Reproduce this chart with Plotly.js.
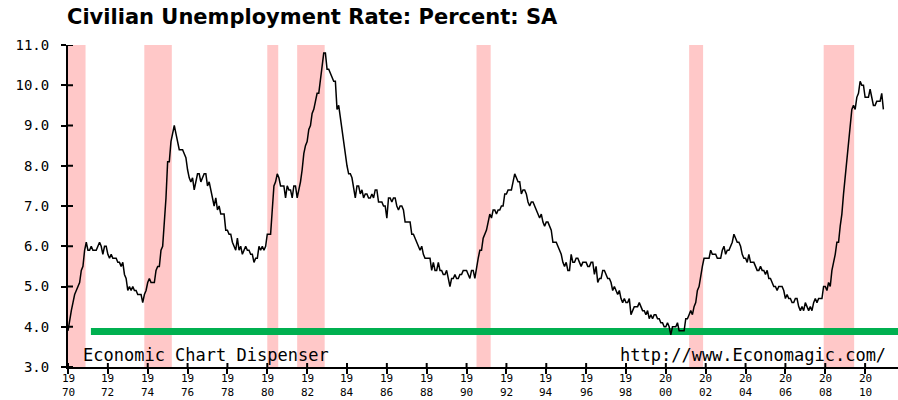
<!DOCTYPE html>
<html>
<head>
<meta charset="utf-8">
<script src="https://cdn.plot.ly/plotly-3.0.1.min.js"></script>
<style>
  html, body { margin: 0; padding: 0; background: #ffffff; }
  #chart { width: 898px; height: 400px; }
</style>
</head>
<body>
<div id="chart"></div>
<script>
// Monthly civilian unemployment rate (percent, SA), Jan..Dec of each year
const rate1970s = [
  [3.9,4.2,4.4,4.6,4.8,4.9,5.0,5.1,5.4,5.5,5.9,6.1],
  [5.9,5.9,6.0,5.9,5.9,5.9,6.0,6.1,6.0,5.8,6.0,6.0],
  [5.8,5.7,5.8,5.7,5.7,5.7,5.6,5.6,5.5,5.6,5.3,5.2],
  [4.9,5.0,4.9,5.0,4.9,4.9,4.8,4.8,4.8,4.6,4.8,4.9],
  [5.1,5.2,5.1,5.1,5.1,5.4,5.5,5.5,5.9,6.0,6.6,7.2],
  [8.1,8.1,8.6,8.8,9.0,8.8,8.6,8.4,8.4,8.4,8.3,8.2],
  [7.9,7.7,7.6,7.7,7.4,7.6,7.8,7.8,7.6,7.7,7.8,7.8],
  [7.5,7.6,7.4,7.2,7.0,7.2,6.9,7.0,6.8,6.8,6.8,6.4],
  [6.4,6.3,6.3,6.1,6.0,5.9,6.2,5.9,6.0,5.8,5.9,6.0],
  [5.9,5.9,5.8,5.8,5.6,5.7,5.7,6.0,5.9,6.0,5.9,6.0]
];
const rate1980s = [
  [6.3,6.3,6.3,6.9,7.5,7.6,7.8,7.7,7.5,7.5,7.5,7.2],
  [7.5,7.4,7.4,7.2,7.5,7.5,7.2,7.4,7.6,7.9,8.3,8.5],
  [8.6,8.9,9.0,9.3,9.4,9.6,9.8,9.8,10.1,10.4,10.8,10.8],
  [10.4,10.4,10.3,10.2,10.1,10.1,9.4,9.5,9.2,8.8,8.5,8.3],
  [8.0,7.8,7.8,7.7,7.4,7.2,7.5,7.5,7.3,7.4,7.2,7.3],
  [7.3,7.2,7.2,7.3,7.2,7.4,7.4,7.1,7.1,7.1,7.0,7.0],
  [6.7,7.2,7.2,7.1,7.2,7.2,7.0,6.9,7.0,7.0,6.9,6.6],
  [6.6,6.6,6.6,6.3,6.3,6.2,6.1,6.0,5.9,6.0,5.8,5.7],
  [5.7,5.7,5.7,5.4,5.6,5.4,5.4,5.6,5.4,5.4,5.3,5.3],
  [5.4,5.2,5.0,5.2,5.2,5.3,5.2,5.2,5.3,5.3,5.4,5.4]
];
const rate1990s = [
  [5.4,5.3,5.2,5.4,5.4,5.2,5.5,5.7,5.9,5.9,6.2,6.3],
  [6.4,6.6,6.8,6.7,6.9,6.9,6.8,6.9,6.9,7.0,7.0,7.3],
  [7.3,7.4,7.4,7.4,7.6,7.8,7.7,7.6,7.6,7.3,7.4,7.4],
  [7.3,7.1,7.0,7.1,7.1,7.0,6.9,6.8,6.7,6.8,6.6,6.5],
  [6.6,6.6,6.5,6.4,6.1,6.1,6.1,6.0,5.9,5.8,5.6,5.5],
  [5.6,5.4,5.4,5.8,5.6,5.6,5.7,5.7,5.6,5.5,5.6,5.6],
  [5.6,5.5,5.5,5.6,5.6,5.3,5.5,5.1,5.2,5.2,5.4,5.4],
  [5.3,5.2,5.2,5.1,4.9,5.0,4.9,4.8,4.9,4.7,4.6,4.7],
  [4.6,4.6,4.7,4.3,4.4,4.5,4.5,4.5,4.6,4.5,4.4,4.4],
  [4.3,4.4,4.2,4.3,4.2,4.3,4.3,4.2,4.2,4.1,4.1,4.0]
];
const rate2000s = [
  [4.0,4.1,4.0,3.8,4.0,4.0,4.0,4.1,3.9,3.9,3.9,3.9],
  [4.2,4.2,4.3,4.4,4.3,4.5,4.6,4.9,5.0,5.3,5.5,5.7],
  [5.7,5.7,5.7,5.9,5.8,5.8,5.8,5.7,5.7,5.7,5.9,6.0],
  [5.8,5.9,5.9,6.0,6.1,6.3,6.2,6.1,6.1,6.0,5.8,5.7],
  [5.7,5.6,5.8,5.6,5.6,5.6,5.5,5.4,5.4,5.5,5.4,5.4],
  [5.3,5.4,5.2,5.2,5.1,5.0,5.0,4.9,5.0,5.0,5.0,4.9],
  [4.7,4.8,4.7,4.7,4.6,4.6,4.7,4.7,4.5,4.4,4.5,4.4],
  [4.6,4.5,4.4,4.5,4.4,4.6,4.7,4.6,4.7,4.7,4.7,5.0],
  [5.0,4.9,5.1,5.0,5.4,5.6,5.8,6.1,6.1,6.5,6.8,7.3],
  [7.7,8.2,8.6,8.9,9.4,9.5,9.4,9.7,9.8,10.1,10.0,10.0]
];
const rate2010s = [
  [9.7,9.7,9.7,9.9,9.7,9.5,9.5,9.6,9.6,9.6,9.8,9.4]
];
const firstYear = 1970;

// Recessions (start, end) in decimal years
const recessionStart = [1970.0, 1973.83, 1980.0, 1981.5, 1990.5, 2001.17, 2007.92];
const recessionEnd   = [1970.88, 1975.21, 1980.55, 1982.88, 1991.21, 2001.87, 2009.45];

// Horizontal green reference line
const refLevel = 3.88;
const refStart = 1971.15;

// Tick labels
const xTickVals = [1970,1972,1974,1976,1978,1980,1982,1984,1986,1988,1990,1992,1994,1996,1998,2000,2002,2004,2006,2008,2010];
const xTickTop = ["19","19","19","19","19","19","19","19","19","19","19","19","19","19","19","20","20","20","20","20","20"];
const xTickBottom = ["70","72","74","76","78","80","82","84","86","88","90","92","94","96","98","00","02","04","06","08","10"];
const yTickVals = [3,4,5,6,7,8,9,10,11];
const yTickText = ["3.0","4.0","5.0","6.0","7.0","8.0","9.0","10.0","11.0"];

const titleText = "Civilian Unemployment Rate: Percent: SA";
const leftNote = "Economic Chart Dispenser";
const rightNote = "http://www.Economagic.com/";

// build series
const allYears = [].concat(rate1970s, rate1980s, rate1990s, rate2000s, rate2010s);
const xs = [], ys = [];
allYears.forEach((row, yi) => {
  row.forEach((v, m) => { xs.push(firstYear + yi + m / 12); ys.push(v); });
});

const xRange = [1970, 2011.65];
const monoFont = "DejaVu Sans Mono";

const shapes = [];
recessionStart.forEach((s, i) => {
  shapes.push({type:'rect', xref:'x', yref:'paper', x0:s, x1:recessionEnd[i], y0:0, y1:1,
    fillcolor:'#FFC8C8', line:{width:0}, layer:'below'});
});
shapes.push({type:'line', xref:'x', yref:'y', x0:refStart, x1:xRange[1], y0:refLevel, y1:refLevel,
  line:{color:'#00B050', width:7}, layer:'below'});
// inside halves of tick marks (so ticks cross the axis)
xTickVals.forEach(v => {
  shapes.push({type:'line', xref:'x', yref:'paper', ysizemode:'pixel', yanchor:0,
    x0:v, x1:v, y0:0, y1:4, line:{color:'#000', width:2}});
});
yTickVals.forEach(v => {
  shapes.push({type:'line', xref:'paper', yref:'y', xsizemode:'pixel', xanchor:0,
    x0:0, x1:5, y0:v, y1:v, line:{color:'#000', width:2}});
});

const annotations = [];
xTickVals.forEach((v, i) => {
  annotations.push({xref:'x', yref:'paper', x:v, y:0, yshift:-18, yanchor:'middle', xanchor:'center',
    text:xTickTop[i] + '<br>' + xTickBottom[i], showarrow:false, borderpad:0,
    font:{family:monoFont, size:11, color:'#000'}});
});
annotations.push({xref:'paper', yref:'paper', x:0.0153, y:0.036, xanchor:'left', yanchor:'middle',
  text:leftNote, showarrow:false, font:{family:monoFont, size:17, color:'#000'}});
annotations.push({xref:'paper', yref:'paper', x:0.988, y:0.036, xanchor:'right', yanchor:'middle',
  text:rightNote, showarrow:false, font:{family:monoFont, size:17, color:'#000'}});

const trace = {
  x: xs, y: ys, type:'scatter', mode:'lines',
  line:{color:'#000000', width:1.5}, hoverinfo:'x+y'
};

const layout = {
  width: 898, height: 400,
  margin: {l:68, r:0, t:45, b:33, pad:0},
  paper_bgcolor:'#ffffff', plot_bgcolor:'#ffffff',
  showlegend:false,
  title: {text: '<b>' + titleText + '</b>', xref:'container', yref:'container',
    x: 67/898, xanchor:'left', y: 1 - 17/400, yanchor:'middle',
    font:{family:'DejaVu Sans', size:21, color:'#000'}},
  xaxis: {range: xRange, tickmode:'array', tickvals:xTickVals,
    showticklabels:false,
    ticks:'outside', ticklen:5, tickwidth:2, tickcolor:'#000',
    showline:true, linecolor:'#000', linewidth:2, showgrid:false, zeroline:false,
    fixedrange:true},
  yaxis: {range:[3,11], tickmode:'array', tickvals:yTickVals, ticktext:yTickText,
    ticks:'outside', ticklen:5, tickwidth:2, tickcolor:'#000',
    showline:true, linecolor:'#000', linewidth:2, showgrid:false, zeroline:false,
    ticklabelstandoff:9,
    tickfont:{family:monoFont, size:14, color:'#000'}, fixedrange:true},
  shapes: shapes,
  annotations: annotations
};

Plotly.newPlot('chart', [trace], layout, {displayModeBar:false, staticPlot:true});
</script>
</body>
</html>
